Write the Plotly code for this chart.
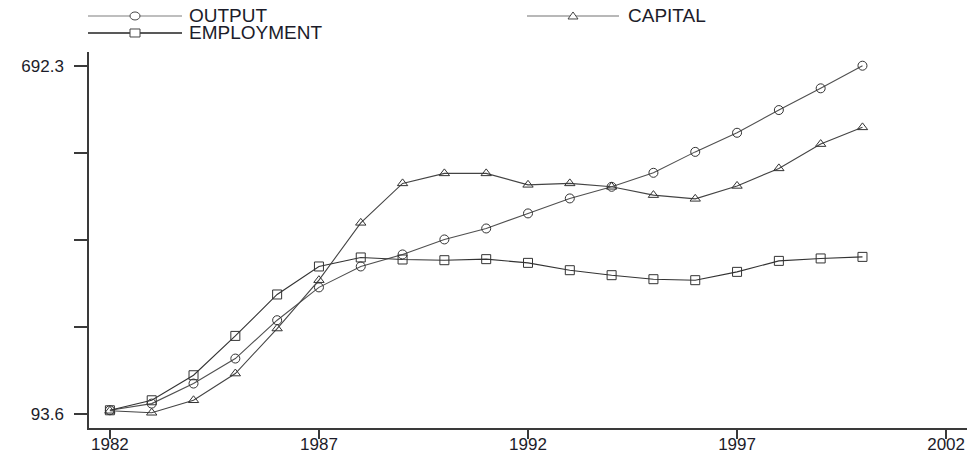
import plotly.graph_objects as go

years = list(range(1982, 2001))
output = [99.3, 110.8, 145.3, 188.3, 254.3, 310.8, 346.8, 367.5, 393.3, 412.2,
          438.1, 463.9, 483.9, 508.0, 544.0, 576.9, 616.0, 653.4, 692.3]
employment = [99.3, 116.5, 159.6, 227.3, 298.6, 346.8, 362.3, 358.8, 357.6, 359.4,
              353.0, 340.4, 331.8, 324.9, 323.2, 337.5, 356.4, 360.6, 363.3]
capital = [98.4, 95.0, 116.5, 162.5, 240.0, 323.2, 421.9, 489.8, 507.0, 507.0,
           487.3, 489.8, 483.9, 469.6, 463.2, 485.4, 515.6, 557.4, 586.2]

x_ticks = [1982, 1987, 1992, 1997, 2002]
y_min, y_max = 93.6, 692.3
y_ticks = [y_min + i * (y_max - y_min) / 4 for i in range(5)]
y_ticktext = ["93.6", "", "", "", "692.3"]

FONT = "Liberation Sans, Arial, sans-serif"
TXT = "#1c1c2a"
AX = "#3a3a3a"

series = [
    ("OUTPUT", output, "circle-open", "#505050"),
    ("EMPLOYMENT", employment, "square-open", "#333333"),
    ("CAPITAL", capital, "triangle-up-open", "#444444"),
]

fig = go.Figure()
for name, vals, sym, col in series:
    fig.add_trace(go.Scatter(
        x=years, y=vals, mode="lines+markers", name=name,
        line=dict(color=col, width=1.1),
        marker=dict(symbol=sym, size=9, color="#333333", line=dict(width=1, color="#333333")),
        showlegend=False,
    ))

# manual legend (pixel geometry converted to paper coords)
L, R, T, B = 89, 967, 52, 427.7
W, H = R - L, B - T
def px(xp):
    return (xp - L) / W
def py(yp):
    return (B - yp) / H

legend_items = [
    ("OUTPUT", 88, 182, 135, 16, "circle", "#a8a8a8", 187),
    ("EMPLOYMENT", 88, 182, 135, 33, "square", "#222222", 187),
    ("CAPITAL", 527, 619, 573, 16, "triangle", "#a0a0a0", 626),
]
shapes = []
annotations = []
for name, x0, x1, xm, yc, sym, lc, xt in legend_items:
    shapes.append(dict(type="line", xref="paper", yref="paper",
                       x0=px(x0), x1=px(x1), y0=py(yc), y1=py(yc),
                       line=dict(color=lc, width=1.5)))
    common = dict(xref="paper", yref="paper", xsizemode="pixel", ysizemode="pixel",
                  xanchor=px(xm), yanchor=py(yc), fillcolor="white",
                  line=dict(color="#444444", width=1))
    if sym == "circle":
        shapes.append(dict(type="circle", x0=-5, x1=5, y0=-4, y1=4, **common))
    elif sym == "square":
        shapes.append(dict(type="rect", x0=-5, x1=5, y0=-4, y1=4, **common))
    else:
        shapes.append(dict(type="path", path="M -5 -3 L 5 -3 L 0 4 Z", **common))
    annotations.append(dict(text=name, xref="paper", yref="paper", x=px(xt), y=py(yc),
                            xanchor="left", yanchor="middle", showarrow=False,
                            font=dict(family=FONT, size=19, color=TXT)))

fig.update_layout(
    width=967, height=455,
    margin=dict(l=L, r=967 - R, t=T, b=455 - B, autoexpand=False),
    paper_bgcolor="white", plot_bgcolor="white",
    shapes=shapes, annotations=annotations,
    font=dict(family=FONT, size=17, color=TXT),
    xaxis=dict(range=[1981.5, 2002.5], tickvals=x_ticks, ticks="outside", ticklen=9,
               tickwidth=1.5, tickcolor=AX, showline=True, linecolor=AX, linewidth=1.5,
               showgrid=False, zeroline=False, tickfont=dict(size=17), automargin=False,
               ticklabelstandoff=-9),
    yaxis=dict(range=[68.8, 715.9], tickvals=y_ticks, ticktext=y_ticktext, ticks="outside",
               ticklen=13, tickwidth=1.5, tickcolor=AX, showline=True, linecolor=AX,
               linewidth=1.5, showgrid=False, zeroline=False, tickfont=dict(size=17),
               ticklabelstandoff=7, automargin=False),
)

fig.write_html("out.html", config={"displayModeBar": False},
               post_script="document.body.style.margin='0';document.body.style.padding='0';")
